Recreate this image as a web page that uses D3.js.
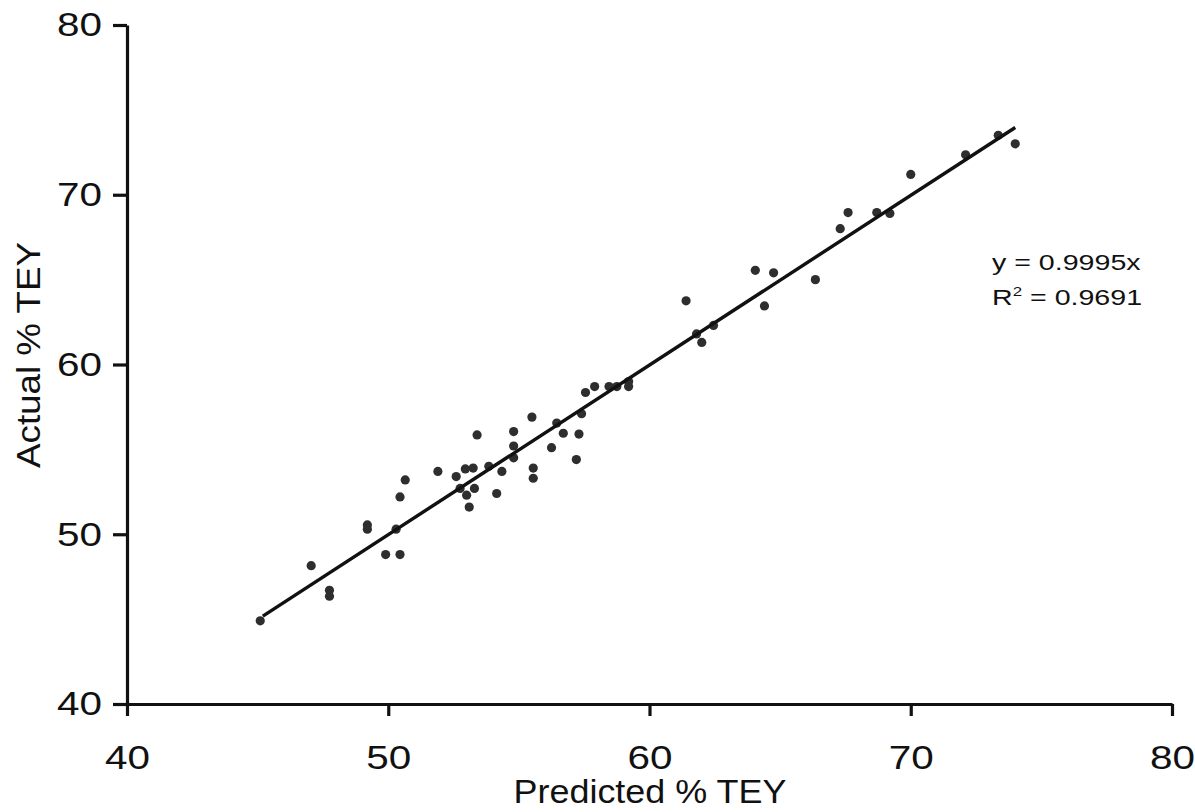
<!DOCTYPE html>
<html>
<head>
<meta charset="utf-8">
<script src="https://cdn.jsdelivr.net/npm/d3@7"></script>
<style>
  html, body { margin: 0; padding: 0; background: #fff; }
  svg { display: block; font-family: "Liberation Sans", Arial, sans-serif; }
</style>
</head>
<body>
<svg id="chart" width="1195" height="812"></svg>
<script>
// ---- data ----
const predicted = [45.1, 47.05, 47.75, 47.75, 49.2, 49.2, 49.9, 50.45, 50.3, 50.45, 50.65,
  51.9, 52.6, 52.95, 53.25, 53.85, 54.35, 55.55, 55.55, 52.75, 53.0, 53.3, 54.15, 53.1,
  53.4, 54.8, 54.8, 54.8, 55.5, 56.25, 56.45, 56.7, 57.3, 57.2, 57.4, 57.55, 57.9, 58.45,
  58.75, 59.2, 59.2, 61.4, 61.8, 62.0, 62.45, 64.05, 64.75, 64.4, 66.35, 67.3, 67.6,
  68.7, 69.2, 70.0, 72.1, 73.35, 74.0];
const actual = [44.9, 48.15, 46.7, 46.35, 50.55, 50.3, 48.8, 48.8, 50.3, 52.2, 53.2,
  53.7, 53.4, 53.85, 53.9, 54.0, 53.7, 53.9, 53.3, 52.7, 52.3, 52.7, 52.4, 51.6,
  55.85, 56.05, 55.2, 54.5, 56.9, 55.1, 56.55, 55.95, 55.9, 54.4, 57.1, 58.35, 58.7, 58.7,
  58.7, 59.0, 58.7, 63.75, 61.8, 61.3, 62.3, 65.55, 65.4, 63.45, 65.0, 68.0, 68.95,
  68.95, 68.9, 71.2, 72.35, 73.5, 73.0];
const trendSlope = 0.9995;
const trendRange = [45.2, 74.0];
const xTicks = [40, 50, 60, 70, 80];
const yTicks = [40, 50, 60, 70, 80];
const xTitle = "Predicted % TEY";
const yTitle = "Actual % TEY";
const eqText = "y = 0.9995x";
const r2Value = "0.9691";

// ---- layout ----
const svg = d3.select("#chart");
const x = d3.scaleLinear().domain([40, 80]).range([127, 1172]);
const y = d3.scaleLinear().domain([40, 80]).range([704, 25]);
const ink = "#111";

// points
svg.append("g").selectAll("circle")
  .data(predicted.map((p, i) => [p, actual[i]]))
  .join("circle")
  .attr("cx", d => x(d[0]))
  .attr("cy", d => y(d[1]))
  .attr("r", 4.6)
  .attr("fill", "#2e2e2e");

// trendline
const line = d3.line().x(d => x(d)).y(d => y(trendSlope * d));
svg.append("path")
  .attr("d", line(trendRange))
  .attr("fill", "none")
  .attr("stroke", ink)
  .attr("stroke-width", 3.4);

// axes
const xAxis = svg.append("g")
  .attr("transform", `translate(0,${y(40)})`)
  .call(d3.axisBottom(x).tickValues(xTicks).tickSize(12).tickSizeOuter(0).tickPadding(29));
const yAxis = svg.append("g")
  .attr("transform", `translate(${x(40)},0)`)
  .call(d3.axisLeft(y).tickValues(yTicks).tickSize(14).tickSizeOuter(0).tickPadding(11));

[xAxis, yAxis].forEach(g => {
  g.select(".domain").attr("stroke", ink).attr("stroke-width", 3.2);
  g.selectAll(".tick line").attr("stroke", ink).attr("stroke-width", 3.2);
  g.selectAll(".tick text")
    .attr("fill", ink)
    .style("font-size", "34px")
    .style("font-family", '"Liberation Sans", Arial, sans-serif')
    .attr("textLength", 45)
    .attr("lengthAdjust", "spacingAndGlyphs");
});

// axis titles
svg.append("text")
  .attr("x", 650).attr("y", 803)
  .attr("text-anchor", "middle")
  .attr("fill", ink)
  .style("font-size", "33px")
  .attr("textLength", 273)
  .attr("lengthAdjust", "spacingAndGlyphs")
  .text(xTitle);

svg.append("text")
  .attr("transform", "translate(40,355) rotate(-90)")
  .attr("text-anchor", "middle")
  .attr("fill", ink)
  .style("font-size", "34px")
  .attr("textLength", 226)
  .attr("lengthAdjust", "spacingAndGlyphs")
  .text(yTitle);

// equation label
const eq = svg.append("g").attr("transform", "translate(992,0) scale(1.3,1)");
eq.append("text")
  .attr("x", 0).attr("y", 270)
  .attr("fill", ink)
  .style("font-size", "22px")
  .text(eqText);
const r2 = eq.append("text")
  .attr("x", 0).attr("y", 305)
  .attr("fill", ink)
  .style("font-size", "22px");
r2.append("tspan").text("R");
r2.append("tspan").attr("dy", -9).style("font-size", "13px").text("2");
r2.append("tspan").attr("dy", 9).text(" = " + r2Value);
</script>
</body>
</html>
